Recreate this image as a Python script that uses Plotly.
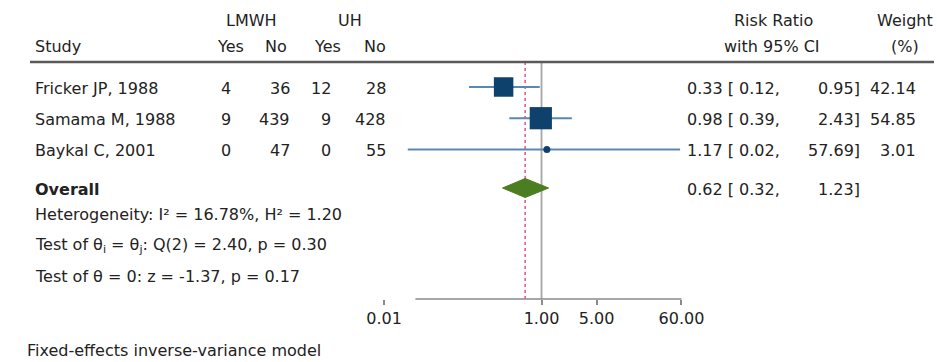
import math
import plotly.graph_objects as go

# ---------------- data ----------------
studies = ["Fricker JP, 1988", "Samama M, 1988", "Baykal C, 2001"]
lmwh_yes = [4, 9, 0]
lmwh_no = [36, 439, 47]
uh_yes = [12, 9, 0]
uh_no = [28, 428, 55]
rr = [0.33, 0.98, 1.17]
ci_low = [0.12, 0.39, 0.02]
ci_high = [0.95, 2.43, 57.69]
weights = [42.14, 54.85, 3.01]
overall_rr = 0.62
overall_low = 0.32
overall_high = 1.23
tick_vals = [0.01, 1, 5, 60]
tick_labels = ["0.01", "1.00", "5.00", "60.00"]
het_lines = [
    "Heterogeneity: I² = 16.78%, H² = 1.20",
    "Test of θ<sub>i</sub> = θ<sub>j</sub>: Q(2) = 2.40, p = 0.30",
    "Test of θ = 0: z = -1.37, p = 0.17",
]
footer = "Fixed-effects inverse-variance model"

# ---------------- layout helpers ----------------
W, H = 937, 362
FONT = "DejaVu Sans"
FS = 16
TXT = "#222222"
X_ONE = 541.5            # pixel of RR = 1
PX_PER_DEC = 78.7        # pixels per decade
xr = [(0 - X_ONE) / PX_PER_DEC, (W - X_ONE) / PX_PER_DEC]


def px(v):   # pixel x -> paper
    return v / W


ROW0, ROWSTEP = 87.0, 31.2
row_y = [ROW0 + ROWSTEP * i for i in range(len(studies))]
overall_y = 188.0
rule_y = 62.0
axis_y = 299.0
top_line_y = 62.0

SQ_COL = "#0f416d"
CI_COL = "#5a87b5"
DIA_COL = "#4b7d21"
RED = "#ec5c88"

fig = go.Figure()

# CI lines
for i in range(len(studies)):
    fig.add_trace(go.Scatter(x=[ci_low[i], ci_high[i]], y=[row_y[i], row_y[i]],
                             mode="lines", line=dict(color=CI_COL, width=2),
                             hoverinfo="skip", showlegend=False))
# weight squares (tiny weights shown as a dot)
sizes = [max(3.0 * math.sqrt(w), 7) for w in weights]
symbols = ["square" if s > 9 else "circle" for s in sizes]
fig.add_trace(go.Scatter(x=rr, y=row_y, mode="markers",
                         marker=dict(symbol=symbols, color=SQ_COL, size=sizes, opacity=1,
                                     line=dict(width=0)),
                         showlegend=False, hoverinfo="skip"))
# overall diamond
hh = 9.5
fig.add_trace(go.Scatter(x=[overall_low, overall_rr, overall_high, overall_rr, overall_low],
                         y=[overall_y, overall_y - hh, overall_y, overall_y + hh, overall_y],
                         mode="lines", fill="toself", fillcolor=DIA_COL,
                         line=dict(color=DIA_COL, width=1), showlegend=False, hoverinfo="skip"))

shapes = []
# header rule
shapes.append(dict(type="line", xref="paper", yref="y", x0=px(30), x1=px(934), y0=rule_y, y1=rule_y,
                   line=dict(color="#5a5a5a", width=2.5), layer="above"))
# no-effect line
shapes.append(dict(type="line", xref="x", yref="y", x0=1, x1=1, y0=top_line_y, y1=axis_y,
                   line=dict(color="#a6a6a6", width=1.8), layer="below"))
# overall effect line
shapes.append(dict(type="line", xref="x", yref="y", x0=overall_rr, x1=overall_rr, y0=top_line_y, y1=axis_y,
                   line=dict(color=RED, width=1.6, dash="dot"), layer="below"))
# axis line
shapes.append(dict(type="line", xref="x", yref="y", x0=min(ci_low) * 1.25, x1=max(tick_vals), y0=axis_y, y1=axis_y,
                   line=dict(color="#8a8a8a", width=1.5)))

ann = []


def txt(text, x, y, anchor="left", bold=False, size=FS):
    ann.append(dict(text=("<b>%s</b>" % text) if bold else text, xref="paper", yref="y",
                    x=px(x), y=y, xanchor=anchor, yanchor="middle", showarrow=False,
                    font=dict(family=FONT, size=size, color=TXT)))


# headers
txt("LMWH", 251, 20, "center")
txt("UH", 350, 20, "center")
txt("Study", 33, 46)
txt("Yes", 230, 46, "center")
txt("No", 276, 46, "center")
txt("Yes", 327, 46, "center")
txt("No", 375, 46, "center")
txt("Risk Ratio", 773, 20, "center")
txt("with 95% CI", 772, 46, "center")
txt("Weight", 905, 20, "center")
txt("(%)", 905, 46, "center")

for i, s in enumerate(studies):
    y = row_y[i] + 1
    txt(s, 33, y)
    txt(str(lmwh_yes[i]), 233, y, "right")
    txt(str(lmwh_no[i]), 292, y, "right")
    txt(str(uh_yes[i]), 333, y, "right")
    txt(str(uh_no[i]), 388, y, "right")
    txt("%.2f [ %.2f," % (rr[i], ci_low[i]), 685, y)
    txt("%.2f]" % ci_high[i], 862, y, "right")
    txt("%.2f" % weights[i], 918, y, "right")

txt("Overall", 33, overall_y + 1, bold=True)
txt("%.2f [ %.2f," % (overall_rr, overall_low), 685, overall_y + 1)
txt("%.2f]" % overall_high, 862, overall_y + 1, "right")

for k, line in enumerate(het_lines):
    txt(line, 33, 214 + 31 * k)

txt(footer, 25, 350)

fig.update_layout(
    width=W, height=H, margin=dict(l=0, r=0, t=0, b=0),
    paper_bgcolor="white", plot_bgcolor="white",
    shapes=shapes, annotations=ann, showlegend=False,
    xaxis=dict(type="log", range=xr, domain=[0, 1], anchor="free", position=1 - axis_y / H,
               showgrid=False, zeroline=False, showline=False, fixedrange=True,
               tickmode="array", tickvals=tick_vals, ticktext=tick_labels,
               ticks="outside", ticklen=5, tickwidth=1.5, tickcolor="#8a8a8a",
               tickfont=dict(family=FONT, size=FS, color=TXT)),
    yaxis=dict(range=[H, 0], domain=[0, 1], visible=False, showgrid=False, zeroline=False,
               fixedrange=True),
)

# remove the default 8px page margin so the figure fills the window exactly
fig.write_html("out.html", config={"displayModeBar": False, "staticPlot": False},
               post_script="document.body.style.margin='0';document.body.style.overflow='hidden';")
